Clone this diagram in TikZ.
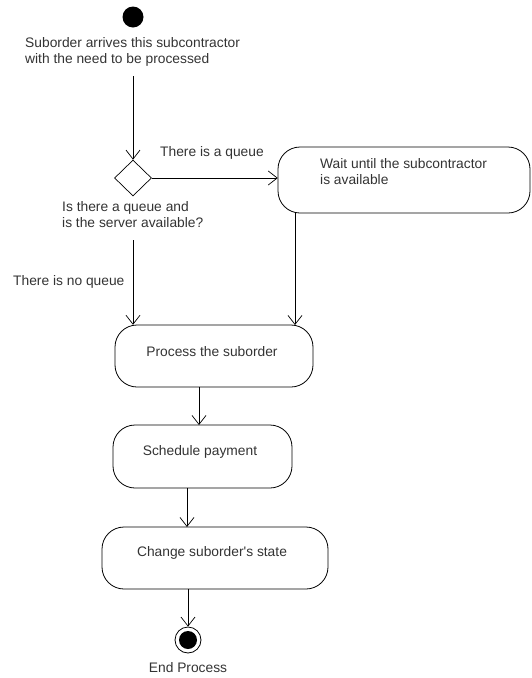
\documentclass[tikz,border=0pt]{standalone}
\usepackage{fontspec}
\setmainfont{Liberation Sans}
\usetikzlibrary{arrows.meta,shapes.geometric}
\begin{document}
\begin{tikzpicture}[x=1pt,y=-1pt,
  txt/.style={font=\fontsize{13.8}{16.5}\selectfont, text=black!80, inner sep=0pt},
  act/.style={draw, line width=0.8pt, rounded corners=22pt},
  flow/.style={draw, line width=0.7pt, -{Straight Barb[length=9pt,width=14pt,line width=0.7pt]}},
  plain/.style={draw, line width=0.7pt}]
\useasboundingbox (0,0) rectangle (532,678);
% start
\node[circle, fill=black, minimum size=21pt, inner sep=0pt] (start) at (133,17) {};
\node[txt, anchor=north west, align=left] (startlbl) at (25,37) {Suborder arrives this subcontractor\\with the need to be processed};
\coordinate (s1) at (133,76);
% decision
\node[diamond, draw, line width=0.7pt, minimum width=37pt, minimum height=36pt, inner sep=0pt] (dec) at (133,178) {};
\node[txt, anchor=north west, align=left] (declbl) at (62,201) {Is there a queue and\\is the server available?};
\coordinate (d1) at (133,240);
% wait box
\path[act] (278,147) rectangle (530,213);
\node[minimum width=252pt, minimum height=66pt, inner sep=0pt] (wait) at (404,180) {};
\node[txt, anchor=north west, align=left] (waittxt) at (320,158) {Wait until the subcontractor\\is available};
% process
\path[act] (115,325) rectangle (313,387);
\node[minimum width=198pt, minimum height=62pt, inner sep=0pt] (proc) at (214,356) {};
\node[txt] (proctxt) at (212,352) {Process the suborder};
% schedule
\path[act] (113,425) rectangle (292,488);
\node[minimum width=179pt, minimum height=63pt, inner sep=0pt] (sched) at (202.5,456.5) {};
\node[txt] (schedtxt) at (200,452) {Schedule payment};
% change
\path[act] (102,527) rectangle (328,589);
\node[minimum width=226pt, minimum height=62pt, inner sep=0pt] (chg) at (215,558) {};
\node[txt] (chgtxt) at (212,553) {Change suborder\textquotesingle s state};
% end
\node[circle, draw, line width=0.8pt, minimum size=26pt, inner sep=0pt] (endo) at (188,640) {};
\node[circle, fill=black, minimum size=18pt, inner sep=0pt] (endi) at (188,640) {};
\node[txt] (endlbl) at (188,668) {End Process};
% labels
\node[txt, anchor=west] (q) at (160,153) {There is a queue};
\node[txt, anchor=west] (nq) at (13,282) {There is no queue};
% connectors
\draw[flow] (s1) -- (dec.north);
\draw[flow] (dec.east) -- (wait.west|-dec.east);
\draw[flow] (d1) -- (d1|-proc.north);
\draw[flow] (wait.south-|295,0) -- (295,325);
\draw[flow] (proc.south-|199,0) -- (199,425);
\draw[flow] (sched.south-|187,0) -- (187,527);
\draw[flow] (chg.south-|188,0) -- (endo.north);
\end{tikzpicture}
\end{document}
